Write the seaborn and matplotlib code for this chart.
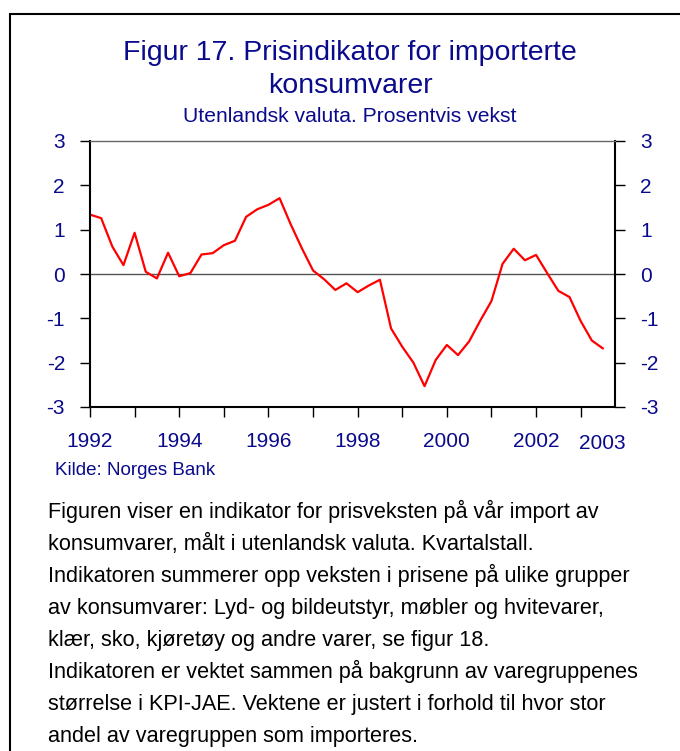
import numpy as np
import pandas as pd
import matplotlib
matplotlib.use("Agg")
import matplotlib.pyplot as plt
import seaborn as sns

# Quarterly growth, 1992Q1 - 2003Q3
start_year = 1992
values = [1.34, 1.26, 0.62, 0.20, 0.93, 0.05, -0.10, 0.48, -0.05, 0.02,
          0.44, 0.47, 0.65, 0.75, 1.29, 1.46, 1.56, 1.71, 1.12, 0.58,
          0.08, -0.12, -0.36, -0.21, -0.41, -0.26, -0.13, -1.23, -1.64, -2.00,
          -2.53, -1.94, -1.60, -1.83, -1.52, -1.05, -0.61, 0.23, 0.57, 0.31,
          0.43, 0.02, -0.38, -0.52, -1.06, -1.50, -1.68]
year_ticks = list(range(1992, 2004))
year_labels = ["1992", "", "1994", "", "1996", "", "1998", "", "2000", "", "2002", ""]
y_ticks = [-3, -2, -1, 0, 1, 2, 3]

title_lines = ["Figur 17. Prisindikator for importerte", "konsumvarer"]
subtitle = "Utenlandsk valuta. Prosentvis vekst"
source = "Kilde: Norges Bank"
body_lines = [
    "Figuren viser en indikator for prisveksten på vår import av",
    "konsumvarer, målt i utenlandsk valuta. Kvartalstall.",
    "Indikatoren summerer opp veksten i prisene på ulike grupper",
    "av konsumvarer: Lyd- og bildeutstyr, møbler og hvitevarer,",
    "klær, sko, kjøretøy og andre varer, se figur 18.",
    "Indikatoren er vektet sammen på bakgrunn av varegruppenes",
    "størrelse i KPI-JAE. Vektene er justert i forhold til hvor stor",
    "andel av varegruppen som importeres.",
]

df = pd.DataFrame({"year": start_year + np.arange(len(values)) * 0.25, "value": values})

sns.set_style("white")
plt.rcParams["font.family"] = ["Liberation Sans", "DejaVu Sans"]
plt.rcParams["axes.unicode_minus"] = False
navy = "#0a0a8c"

fig = plt.figure(figsize=(6.8, 7.51), dpi=100)
W, H = 680, 751

# outer frame
fig.add_artist(plt.Rectangle((10 / W, -0.01), 1.0, 1 - 14 / H + 0.01, transform=fig.transFigure,
                             fill=False, edgecolor="black", linewidth=1.5))

ax = fig.add_axes([90 / W, (H - 407) / H, 525 / W, 266 / H])
ax.axhline(0, color="#555555", linewidth=1)
sns.lineplot(data=df, x="year", y="value", ax=ax, color="red", linewidth=1.6)

ax.set_xlim(1992, 2003.77)
ax.set_ylim(-3, 3)
ax.set_xticks(year_ticks)
ax.set_xticklabels(year_labels)
ax.set_yticks(y_ticks)
ax.set_xlabel("")
ax.set_ylabel("")
ax.tick_params(axis="both", direction="out", length=7, width=1, color="black",
               labelsize=15, labelcolor=navy)
ax.tick_params(axis="y", right=True, labelright=True, left=True, pad=11)
ax.tick_params(axis="x", bottom=True, pad=11)
for side in ["left", "bottom", "right"]:
    ax.spines[side].set_color("black")
    ax.spines[side].set_linewidth(1.5)
ax.spines["top"].set_color("#666666")
ax.spines["top"].set_linewidth(1)
ax.text(2003.48, -3.95, "2003", ha="center", va="baseline", fontsize=15, color=navy)

fig.text(350 / W, 1 - 60 / H, title_lines[0], ha="center", va="baseline", fontsize=20.5, color=navy)
fig.text(350 / W, 1 - 93 / H, title_lines[1], ha="center", va="baseline", fontsize=20.5, color=navy)
fig.text(350 / W, 1 - 121.5 / H, subtitle, ha="center", va="baseline", fontsize=15.2, color=navy)
fig.text(55 / W, 1 - 475 / H, source, ha="left", va="baseline", fontsize=13.5, color=navy)

for i, line in enumerate(body_lines):
    fig.text(48 / W, 1 - (518 + 32 * i) / H, line, ha="left", va="baseline",
             fontsize=15.6, color="black")

fig.savefig("out.png", dpi=100)
